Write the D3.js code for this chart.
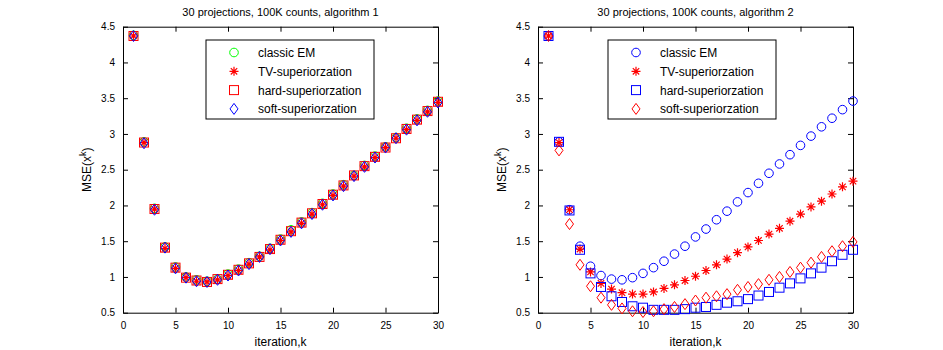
<!DOCTYPE html>
<meta charset="utf-8">
<script src="https://d3js.org/d3.v7.min.js"></script>
<style>
  body { margin: 0; background: #fff; }
  text { font-family: "Liberation Sans", Arial, sans-serif; }
</style>
<div id="my_dataviz"></div>
<script>

// iterations 1..30
var iters = d3.range(1, 31);

// algorithm 1 : the four curves lie almost on top of each other
var a1Classic = [4.38, 2.89, 1.96, 1.42, 1.14, 1.00, 0.96, 0.94, 0.97, 1.04, 1.11, 1.20, 1.29, 1.40, 1.53,
                 1.66, 1.77, 1.90, 2.03, 2.16, 2.29, 2.42, 2.56, 2.69, 2.82, 2.95, 3.08, 3.21, 3.33, 3.46];
var a1TV      = [4.37, 2.88, 1.95, 1.40, 1.12, 0.99, 0.94, 0.93, 0.96, 1.02, 1.09, 1.18, 1.28, 1.38, 1.51,
                 1.63, 1.75, 1.88, 2.01, 2.14, 2.27, 2.41, 2.54, 2.67, 2.81, 2.94, 3.06, 3.19, 3.31, 3.44];
var a1Hard    = [4.37, 2.88, 1.95, 1.41, 1.13, 0.99, 0.95, 0.93, 0.97, 1.03, 1.10, 1.19, 1.28, 1.39, 1.52,
                 1.64, 1.76, 1.89, 2.02, 2.15, 2.28, 2.42, 2.55, 2.68, 2.81, 2.94, 3.07, 3.20, 3.32, 3.45];
var a1Soft    = [4.37, 2.87, 1.94, 1.41, 1.12, 0.99, 0.94, 0.93, 0.96, 1.02, 1.09, 1.18, 1.28, 1.39, 1.51,
                 1.63, 1.75, 1.88, 2.01, 2.14, 2.27, 2.41, 2.54, 2.67, 2.81, 2.94, 3.06, 3.19, 3.31, 3.44];

// algorithm 2
var a2Classic = [4.37, 2.89, 1.94, 1.43, 1.15, 1.02, 0.97, 0.96, 0.99, 1.05, 1.13, 1.22, 1.32, 1.43, 1.56,
                 1.67, 1.80, 1.92, 2.05, 2.18, 2.31, 2.45, 2.58, 2.71, 2.84, 2.97, 3.10, 3.22, 3.34, 3.46];
var a2TV      = [4.37, 2.88, 1.94, 1.39, 1.07, 0.91, 0.83, 0.78, 0.76, 0.76, 0.79, 0.84, 0.89, 0.95, 1.01,
                 1.09, 1.17, 1.25, 1.34, 1.42, 1.51, 1.60, 1.68, 1.78, 1.88, 1.98, 2.06, 2.16, 2.26, 2.34];
var a2Hard    = [4.37, 2.89, 1.93, 1.38, 1.05, 0.86, 0.73, 0.65, 0.59, 0.57, 0.54, 0.54, 0.54, 0.55, 0.57,
                 0.58, 0.61, 0.64, 0.66, 0.69, 0.74, 0.79, 0.85, 0.91, 0.98, 1.05, 1.13, 1.22, 1.31, 1.38];
var a2Soft    = [4.37, 2.77, 1.74, 1.17, 0.87, 0.71, 0.61, 0.56, 0.52, 0.51, 0.52, 0.55, 0.58, 0.62, 0.67,
                 0.71, 0.73, 0.76, 0.82, 0.86, 0.90, 0.96, 1.00, 1.07, 1.13, 1.20, 1.28, 1.36, 1.43, 1.49];

var seriesNames = ["classic EM", "TV-superiorzation", "hard-superiorzation", "soft-superiorzation"];
var xTicks = [0, 5, 10, 15, 20, 25, 30];
var yTicks = [0.5, 1, 1.5, 2, 2.5, 3, 3.5, 4, 4.5];

var W = 943, H = 350;
var svg = d3.select("#my_dataviz").append("svg")
    .attr("width", W).attr("height", H);

// marker drawing
function drawMarker(g, shape, color) {
  if (shape === "circle") {
    g.append("circle").attr("r", 4.3).attr("fill", "none").attr("stroke", color);
  } else if (shape === "square") {
    g.append("rect").attr("x", -4.5).attr("y", -4.5).attr("width", 9).attr("height", 9)
      .attr("fill", "none").attr("stroke", color);
  } else if (shape === "diamond") {
    g.append("path").attr("d", "M0,-5.5L4,0L0,5.5L-4,0Z").attr("fill", "none").attr("stroke", color);
  } else if (shape === "star") {
    var s = 4.5, d = 3.2;
    g.append("path")
      .attr("d", "M" + (-s) + ",0L" + s + ",0M0," + (-s) + "L0," + s +
                 "M" + (-d) + "," + (-d) + "L" + d + "," + d + "M" + (-d) + "," + d + "L" + d + "," + (-d))
      .attr("fill", "none").attr("stroke", color).attr("stroke-width", 1.2);
  }
}

function drawPanel(cfg) {
  var x = d3.scaleLinear().domain([0, 30]).range([cfg.left, cfg.right]);
  var y = d3.scaleLinear().domain([0.5, 4.5]).range([cfg.bottom, cfg.top]);
  var fmt = function(d) { return String(d); };

  // box axes with inward ticks
  var ax = svg.append("g").attr("font-size", 12);
  ax.append("g").attr("transform", "translate(0," + cfg.bottom + ")")
    .call(d3.axisBottom(x).tickValues(xTicks).tickSizeInner(-5).tickSizeOuter(0).tickPadding(9).tickFormat(fmt));
  ax.append("g").attr("transform", "translate(0," + cfg.top + ")")
    .call(d3.axisTop(x).tickValues(xTicks).tickSizeInner(-5).tickSizeOuter(0).tickFormat(""));
  ax.append("g").attr("transform", "translate(" + cfg.left + ",0)")
    .call(d3.axisLeft(y).tickValues(yTicks).tickSizeInner(-5).tickSizeOuter(0).tickPadding(8).tickFormat(fmt));
  ax.append("g").attr("transform", "translate(" + cfg.right + ",0)")
    .call(d3.axisRight(y).tickValues(yTicks).tickSizeInner(-5).tickSizeOuter(0).tickFormat(""));
  ax.selectAll("text").attr("fill", "#000").style("font-family", "'Liberation Sans', Arial, sans-serif");
  ax.selectAll(".domain, line").attr("stroke", "#000");

  // markers
  cfg.series.forEach(function(s) {
    svg.append("g").selectAll("g")
      .data(s.values)
      .enter().append("g")
      .attr("transform", function(d, i) { return "translate(" + x(iters[i]) + "," + y(d) + ")"; })
      .each(function() { drawMarker(d3.select(this), s.shape, s.color); });
  });

  // title
  svg.append("text")
    .attr("x", (cfg.left + cfg.right) / 2).attr("y", 16)
    .attr("text-anchor", "middle").attr("font-size", 11)
    .text(cfg.title);

  // axis labels
  svg.append("text")
    .attr("x", (cfg.left + cfg.right) / 2).attr("y", 346)
    .attr("text-anchor", "middle").attr("font-size", 12)
    .text("iteration,k");
  var yl = svg.append("text")
    .attr("transform", "translate(" + (cfg.left - 32) + "," + ((cfg.top + cfg.bottom) / 2) + ") rotate(-90)")
    .attr("text-anchor", "middle").attr("font-size", 12);
  yl.append("tspan").text("MSE(x");
  yl.append("tspan").attr("font-size", 9).attr("dy", -5).text("k");
  yl.append("tspan").attr("dy", 5).text(")");

  // legend
  var lg = svg.append("g");
  lg.append("rect")
    .attr("x", cfg.legX).attr("y", 40).attr("width", 168).attr("height", 79)
    .attr("fill", "#fff").attr("stroke", "#000");
  cfg.series.forEach(function(s, i) {
    var yy = 52.5 + i * 18.8;
    var m = lg.append("g").attr("transform", "translate(" + (cfg.legX + 28) + "," + yy + ")");
    drawMarker(m, s.shape, s.color);
    lg.append("text").attr("x", cfg.legX + 52).attr("y", yy + 4.5)
      .attr("font-size", 12).text(seriesNames[i]);
  });
}

drawPanel({
  left: 123, right: 438, top: 26.7, bottom: 312.7, legX: 206,
  title: "30 projections, 100K counts, algorithm 1",
  series: [
    {values: a1Classic, shape: "circle", color: "#00ff00"},
    {values: a1TV, shape: "star", color: "#ff0000"},
    {values: a1Hard, shape: "square", color: "#ff0000"},
    {values: a1Soft, shape: "diamond", color: "#0000ff"}
  ]
});

drawPanel({
  left: 538, right: 853, top: 26.7, bottom: 312.7, legX: 608,
  title: "30 projections, 100K counts, algorithm 2",
  series: [
    {values: a2Classic, shape: "circle", color: "#0000ff"},
    {values: a2TV, shape: "star", color: "#ff0000"},
    {values: a2Hard, shape: "square", color: "#0000ff"},
    {values: a2Soft, shape: "diamond", color: "#ff0000"}
  ]
});

</script>
